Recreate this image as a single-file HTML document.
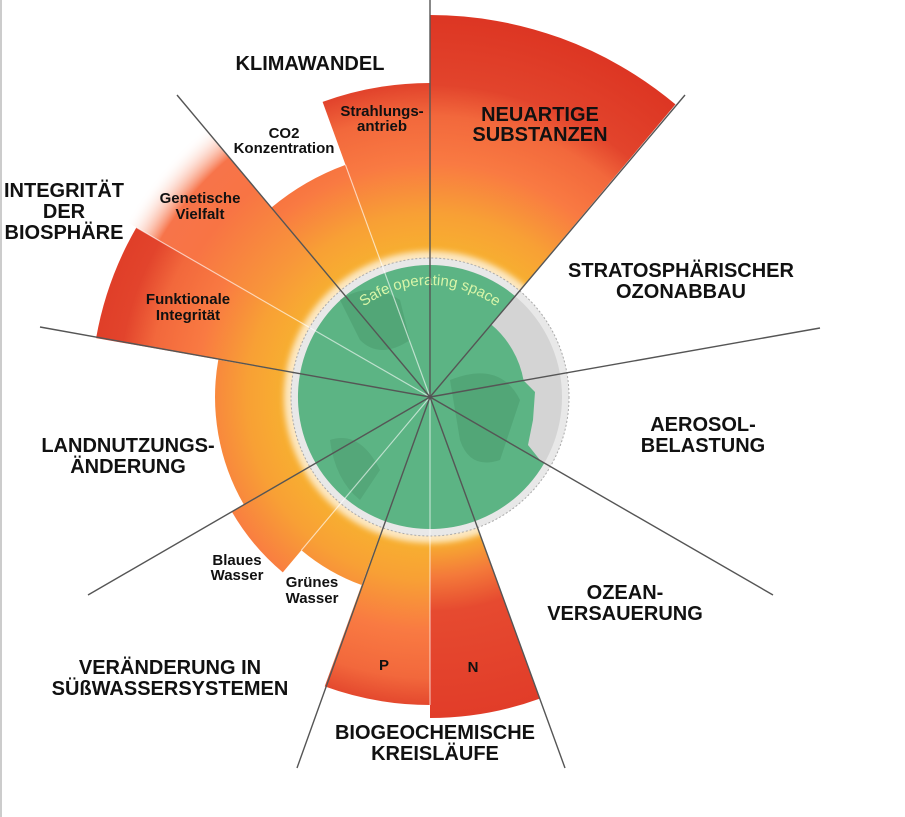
<!DOCTYPE html>
<html><head><meta charset="utf-8"><style>
html,body{margin:0;padding:0;background:#fff;}
svg{display:block;}
text{font-family:"Liberation Sans",sans-serif;font-weight:bold;fill:#111;text-anchor:middle;}
.big{font-size:20px;}
.sm{font-size:15px;}
</style></head><body>
<svg width="905" height="817" viewBox="0 0 905 817" xmlns="http://www.w3.org/2000/svg">
<defs>
<radialGradient id="g" gradientUnits="userSpaceOnUse" cx="430" cy="397" r="390">
<stop offset="0" stop-color="#f6b030"/>
<stop offset="0.37" stop-color="#f7b030"/>
<stop offset="0.47" stop-color="#f8a035"/>
<stop offset="0.6" stop-color="#f97a42"/>
<stop offset="0.72" stop-color="#f2683c"/>
<stop offset="0.8" stop-color="#e2442c"/>
<stop offset="1" stop-color="#dc3422"/>
</radialGradient>
<radialGradient id="gn" gradientUnits="userSpaceOnUse" cx="430" cy="397" r="390">
<stop offset="0" stop-color="#f6b030"/>
<stop offset="0.37" stop-color="#f7b030"/>
<stop offset="0.46" stop-color="#f47a3a"/>
<stop offset="0.55" stop-color="#e64a30"/>
<stop offset="1" stop-color="#de3424"/>
</radialGradient>
<radialGradient id="gf" gradientUnits="userSpaceOnUse" cx="430" cy="397" r="390">
<stop offset="0" stop-color="#f6b030"/>
<stop offset="0.37" stop-color="#f7b030"/>
<stop offset="0.5" stop-color="#f8963a"/>
<stop offset="0.7" stop-color="#f87444"/>
<stop offset="0.8" stop-color="#f7744a" stop-opacity="1"/>
<stop offset="0.9" stop-color="#ffffff" stop-opacity="0"/>
</radialGradient>
<filter id="bl"><feGaussianBlur stdDeviation="3"/></filter>
<path id="arc" d="M 344.2 325 A 112 112 0 0 1 515.8 325"/>
</defs>
<line x1="1" y1="0" x2="1" y2="817" stroke="#999" stroke-width="1"/>

<!-- wedges -->
<path d="M430 397 L430 15 A382 382 0 0 1 675.5 104.4 Z" fill="url(#g)"/>
<path d="M430 397 L539.8 698.6 A321 321 0 0 1 430 718 Z" fill="url(#gn)"/>
<path d="M430 397 L430 705 A308 308 0 0 1 324.7 686.4 Z" fill="url(#g)"/>
<path d="M430 397 L361.6 585 A200 200 0 0 1 301.4 550.2 Z" fill="url(#g)"/>
<path d="M430 397 L282.8 572.4 A229 229 0 0 1 231.7 511.5 Z" fill="url(#g)"/>
<path d="M430 397 L243.8 504.5 A215 215 0 0 1 218.3 359.7 Z" fill="url(#g)"/>
<path d="M430 397 L96.1 338.1 A339 339 0 0 1 136.4 227.5 Z" fill="url(#g)"/>
<path d="M430 397 L83.6 197 A400 400 0 0 1 172.9 90.6 Z" fill="url(#gf)"/>
<path d="M430 397 L271.2 207.8 A247 247 0 0 1 345.5 164.9 Z" fill="url(#g)"/>
<path d="M430 397 L322.6 101.9 A314 314 0 0 1 430 83 Z" fill="url(#g)"/>

<!-- globe -->
<circle cx="430" cy="397" r="146" fill="#fff" opacity="0.7" filter="url(#bl)"/>
<circle cx="430" cy="397" r="139" fill="#e8e8e8" stroke="#aaa" stroke-width="1" stroke-dasharray="2 2"/>
<circle cx="430" cy="397" r="132" fill="#d4d4d4"/>
<!-- green: from 30deg clockwise to -50deg at r=132 -->
<path d="M430 397 L544.3 463 A132 132 0 1 1 514.8 295.9 Z" fill="#5cb484"/>
<path d="M430 397 L491 324.3 L500 340 L505 352 L520 370 Z" fill="#5cb484"/>
<path d="M430 397 L491 324.3 A95 95 0 0 1 523.6 380.5 Z" fill="#5cb484"/>
<path d="M430 397 L523.6 380.5 L535 392 L533 420 L528 445 L540 460 L544.3 463 Z" fill="#5cb484"/>
<path d="M340 300 Q370 280 400 300 L410 340 Q380 360 360 340 Z" fill="#4f9f72" opacity="0.7"/>
<path d="M450 380 Q500 360 520 400 L500 460 Q470 470 460 440 Z" fill="#4f9f72" opacity="0.7"/>
<path d="M330 440 Q360 430 380 470 L360 500 Q335 480 330 440 Z" fill="#4f9f72" opacity="0.6"/>
<text font-size="15" style="fill:#d8f5a8;font-weight:normal"><textPath href="#arc" startOffset="50%" text-anchor="middle">Safe operating space</textPath></text>

<!-- sub dividers -->
<g stroke="#fff" stroke-opacity="0.6" stroke-width="1.2">
<line x1="430" y1="397" x2="345.5" y2="164.9"/>
<line x1="430" y1="397" x2="136.4" y2="227.5"/>
<line x1="430" y1="397" x2="430" y2="705"/>
<line x1="430" y1="397" x2="301.4" y2="550.2"/>
</g>
<!-- main lines -->
<g stroke="#555" stroke-width="1.4">
<line x1="430" y1="397" x2="430" y2="0"/>
<line x1="430" y1="397" x2="685" y2="95"/>
<line x1="430" y1="397" x2="820" y2="328"/>
<line x1="430" y1="397" x2="773" y2="595"/>
<line x1="430" y1="397" x2="565" y2="768"/>
<line x1="430" y1="397" x2="297" y2="768"/>
<line x1="430" y1="397" x2="88" y2="595"/>
<line x1="430" y1="397" x2="40" y2="327"/>
<line x1="430" y1="397" x2="177" y2="95"/>
</g>

<!-- labels -->
<text class="big" x="310" y="70">KLIMAWANDEL</text>
<text class="big" x="540" y="121">NEUARTIGE</text>
<text class="big" x="540" y="141">SUBSTANZEN</text>
<text class="big" x="681" y="277">STRATOSPHÄRISCHER</text>
<text class="big" x="681" y="298">OZONABBAU</text>
<text class="big" x="703" y="431">AEROSOL-</text>
<text class="big" x="703" y="452">BELASTUNG</text>
<text class="big" x="625" y="599">OZEAN-</text>
<text class="big" x="625" y="620">VERSAUERUNG</text>
<text class="big" x="435" y="739">BIOGEOCHEMISCHE</text>
<text class="big" x="435" y="760">KREISLÄUFE</text>
<text class="big" x="170" y="674">VERÄNDERUNG IN</text>
<text class="big" x="170" y="695">SÜßWASSERSYSTEMEN</text>
<text class="big" x="128" y="452">LANDNUTZUNGS-</text>
<text class="big" x="128" y="473">ÄNDERUNG</text>
<text class="big" x="64" y="197">INTEGRITÄT</text>
<text class="big" x="64" y="218">DER</text>
<text class="big" x="64" y="239">BIOSPHÄRE</text>

<text class="sm" x="382" y="116">Strahlungs-</text>
<text class="sm" x="382" y="131">antrieb</text>
<text class="sm" x="284" y="138">CO2</text>
<text class="sm" x="284" y="153">Konzentration</text>
<text class="sm" x="200" y="203">Genetische</text>
<text class="sm" x="200" y="219">Vielfalt</text>
<text class="sm" x="188" y="304">Funktionale</text>
<text class="sm" x="188" y="320">Integrität</text>
<text class="sm" x="237" y="565">Blaues</text>
<text class="sm" x="237" y="580">Wasser</text>
<text class="sm" x="312" y="587">Grünes</text>
<text class="sm" x="312" y="603">Wasser</text>
<text class="sm" x="384" y="670">P</text>
<text class="sm" x="473" y="672">N</text>
</svg>
</body></html>
